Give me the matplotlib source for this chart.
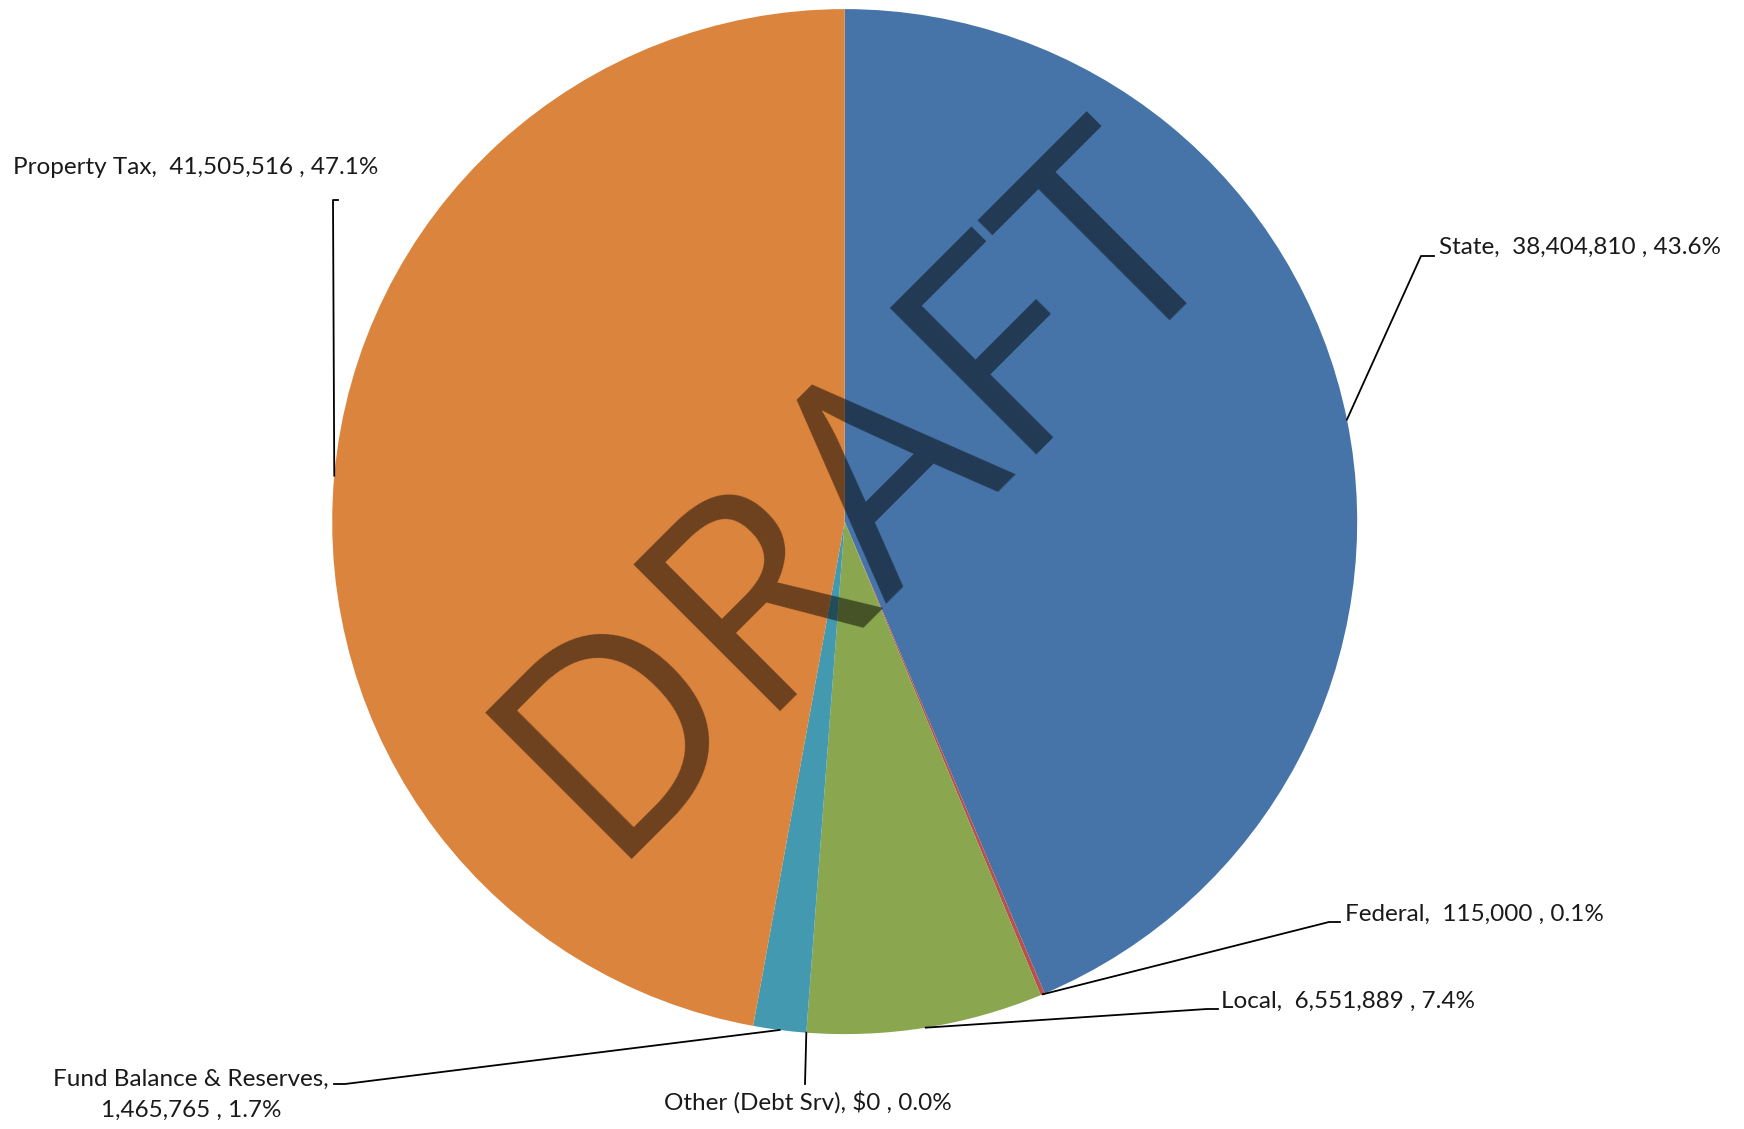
import matplotlib.pyplot as plt
import numpy as np

# Данные
categories = ['State', 'Federal', 'Local', 'Other (Debt Srv)', 'Fund Balance & Reserves', 'Property Tax']
values = [38404810, 115000, 6551889, 0, 1465765, 41505516]
colors = ['#4674A8', '#B9504C', '#8AA64F', '#7E62A1', '#4299B0', '#DB843D']
label_texts = [
    'State,  38,404,810 , 43.6%',
    'Federal,  115,000 , 0.1%',
    'Local,  6,551,889 , 7.4%',
    'Other (Debt Srv), $0 , 0.0%',
    'Fund Balance & Reserves,\n1,465,765 , 1.7%',
    'Property Tax,  41,505,516 , 47.1%',
]

W, H = 1744, 1129
fig = plt.figure(figsize=(W / 100, H / 100), dpi=100)
plt.rcParams['font.family'] = ['Lato', 'DejaVu Sans']

# Положение круга (пиксели изображения, отсчёт сверху)
cx, cy, r = 844.7, 521.6, 512.5
ax = fig.add_axes([(cx - r) / W, (H - cy - r) / H, 2 * r / W, 2 * r / H])
wedges, _ = ax.pie(values, colors=colors, startangle=90, counterclock=False,
                   radius=1, wedgeprops=dict(linewidth=0))
ax.set_xlim(-1, 1)
ax.set_ylim(-1, 1)
ax.set_aspect('equal')
ax.axis('off')

# Выноски: (локоть линии, конец линии, позиция текста, выравнивание) в пикселях сверху
callouts = [
    ((1421, 256), (1434, 256), (1439, 247), 'left'),
    ((1329, 922), (1340, 922), (1345, 914), 'left'),
    ((1207, 1009), (1218, 1009), (1221, 1001), 'left'),
    ((805, 1084), (805, 1084), (808, 1102), 'center'),
    ((345, 1084), (334, 1084), (191, 1095), 'center'),
    ((333, 200), (338, 200), (13, 168), 'left'),
]

for w, txt, (elb, end, tpos, ha) in zip(wedges, label_texts, callouts):
    mid = np.deg2rad((w.theta1 + w.theta2) / 2)
    px, py = ax.transData.transform((np.cos(mid), np.sin(mid)))
    xs = [px / W, elb[0] / W, end[0] / W]
    ys = [py / H, 1 - elb[1] / H, 1 - end[1] / H]
    fig.add_artist(plt.Line2D(xs, ys, color='black', lw=1.3))
    fig.text(tpos[0] / W, 1 - tpos[1] / H, txt, ha=ha, va='center',
             fontsize=17.5, color='#1a1a1a', linespacing=1.55)

# Водяной знак
fig.text(862 / W, 1 - 493 / H, 'DRAFT', fontsize=209, rotation=45,
         ha='center', va='center', color='black', alpha=0.5,
         family='Open Sans', rotation_mode='anchor')

fig.savefig('out.png', dpi=100)
